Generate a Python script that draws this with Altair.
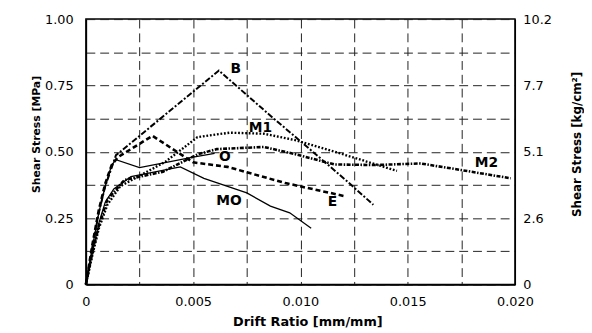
import altair as alt
import pandas as pd

# ---- data ----
B_x = [0, 0.0003, 0.0006, 0.0009, 0.0012, 0.0014, 0.0062, 0.0087, 0.0101, 0.0121, 0.0134]
B_y = [0, 0.14, 0.27, 0.37, 0.44, 0.487, 0.806, 0.629, 0.533, 0.394, 0.30]

E_x = [0, 0.0003, 0.0006, 0.0009, 0.0012, 0.0015, 0.0031, 0.0050, 0.0066, 0.0093, 0.0121]
E_y = [0, 0.15, 0.28, 0.38, 0.45, 0.48, 0.56, 0.46, 0.443, 0.382, 0.332]

O_x = [0, 0.0003, 0.0006, 0.0009, 0.0012, 0.0014, 0.0025, 0.0050, 0.0060]
O_y = [0, 0.14, 0.27, 0.37, 0.45, 0.47, 0.44, 0.48, 0.494]

MO_x = [0, 0.0003, 0.0006, 0.0009, 0.0013, 0.0021, 0.0044, 0.0055, 0.0075, 0.0086, 0.0095, 0.0105]
MO_y = [0, 0.12, 0.23, 0.31, 0.36, 0.406, 0.443, 0.40, 0.345, 0.295, 0.27, 0.212]

M1_x = [0, 0.0003, 0.0006, 0.0010, 0.0016, 0.0037, 0.0052, 0.0067, 0.0083, 0.0098, 0.0116, 0.0145]
M1_y = [0, 0.11, 0.21, 0.30, 0.37, 0.462, 0.555, 0.572, 0.568, 0.543, 0.50, 0.428]

M2_x = [0, 0.0003, 0.0006, 0.0010, 0.0018, 0.0036, 0.0052, 0.0061, 0.0083, 0.0098, 0.0116, 0.0135, 0.0156, 0.0175, 0.0198]
M2_y = [0, 0.12, 0.22, 0.32, 0.394, 0.425, 0.49, 0.51, 0.518, 0.49, 0.452, 0.45, 0.456, 0.431, 0.40]

label_names = ["B", "M1", "O", "MO", "E", "M2"]
label_x = [0.00699, 0.00814, 0.00648, 0.00667, 0.01149, 0.01867]
label_y = [0.812, 0.591, 0.480, 0.316, 0.309, 0.459]

x_ticks = [0, 0.0025, 0.005, 0.0075, 0.01, 0.0125, 0.015, 0.0175, 0.02]
x_labels = ["0", "0.005", "0.010", "0.015", "0.020"]
y_ticks = [0, 0.125, 0.25, 0.375, 0.5, 0.625, 0.75, 0.875, 1.0]
y_labels = ["0", "0.25", "0.50", "0.75", "1.00"]
y2_ticks = [0, 0.25, 0.5, 0.75, 1.0]
y2_labels = ["0", "2.6", "5.1", "7.7", "10.2"]

series = {
    "B": (B_x, B_y),
    "E": (E_x, E_y),
    "O": (O_x, O_y),
    "MO": (MO_x, MO_y),
    "M1": (M1_x, M1_y),
    "M2": (M2_x, M2_y),
}
styles = {
    "B": dict(strokeDash=[6, 2, 2, 2], strokeWidth=2.0),
    "E": dict(strokeDash=[5, 3], strokeWidth=2.6),
    "O": dict(strokeWidth=1.3),
    "MO": dict(strokeWidth=1.3),
    "M1": dict(strokeDash=[1.8, 1.8], strokeWidth=2.4),
    "M2": dict(strokeDash=[4, 1.5, 1.5, 1.5], strokeWidth=2.6),
}

FONT = "DejaVu Sans"

def js_list(lst):
    return "[" + ",".join("'" + s + "'" for s in lst) + "]"

x_expr = f"(round(datum.value/0.0025)%2==0) ? {js_list(x_labels)}[round(datum.value/0.005)] : ''"
y_expr = f"(round(datum.value/0.125)%2==0) ? {js_list(y_labels)}[round(datum.value/0.25)] : ''"
y2_expr = f"{js_list(y2_labels)}[round(datum.value/0.25)]"

x_scale = alt.Scale(domain=[0, 0.02], nice=False, zero=False)
y_scale = alt.Scale(domain=[0, 1], nice=False)

x_axis = alt.Axis(
    values=x_ticks, labelExpr=x_expr, title="Drift Ratio [mm/mm]",
    grid=True, gridDash=[9, 5], gridColor="#222", gridWidth=1,
    ticks=False, domainColor="black", domainWidth=1.5,
    labelFont=FONT, labelFontSize=13, labelColor="black", labelPadding=11,
    labelFlush=False, labelOverlap=False,
    titleFont=FONT, titleFontSize=13, titleFontWeight="bold", titleColor="black",
    titleX=224.5, titleY=38, titleBaseline="middle", titleAlign="center",
)
y_axis = alt.Axis(
    values=y_ticks, labelExpr=y_expr, title="Shear Stress [MPa]",
    grid=True, gridDash=[9, 5], gridColor="#222", gridWidth=1,
    ticks=False, domainColor="black", domainWidth=1.5,
    labelFont=FONT, labelFontSize=13, labelColor="black", labelPadding=13,
    labelFlush=False, labelOverlap=False,
    titleFont=FONT, titleFontSize=11, titleFontWeight="bold", titleColor="black",
    titleAngle=270, titleX=-50, titleY=116.5, titleBaseline="middle", titleAlign="center",
)
y2_axis = alt.Axis(
    orient="right", values=y2_ticks, labelExpr=y2_expr, title="Shear Stress [kg/cm²]",
    grid=False, ticks=False, domainColor="black", domainWidth=1.2,
    labelFont=FONT, labelFontSize=13, labelColor="black", labelPadding=8,
    labelFlush=False, labelOverlap=False,
    titleFont=FONT, titleFontSize=12, titleFontWeight="bold", titleColor="black",
    titleAngle=270, titleX=62, titleY=126.5, titleBaseline="middle", titleAlign="center",
)

layers = []
for name, (xs, ys) in series.items():
    df = pd.DataFrame({"x": xs, "y": ys, "series": name})
    layers.append(
        alt.Chart(df).mark_line(color="black", strokeCap="butt", **styles[name]).encode(
            x=alt.X("x:Q", scale=x_scale, axis=x_axis),
            y=alt.Y("y:Q", scale=y_scale, axis=y_axis),
            order=alt.Order("x:Q"),
        )
    )

lab_df = pd.DataFrame({"x": label_x, "y": label_y, "t": label_names})
labels = alt.Chart(lab_df).mark_text(
    font=FONT, fontSize=14, fontWeight="bold", color="black", align="center", baseline="middle"
).encode(
    x=alt.X("x:Q", scale=x_scale, axis=x_axis),
    y=alt.Y("y:Q", scale=y_scale, axis=y_axis),
    text="t:N",
)

left = alt.layer(*layers, labels)

right_df = pd.DataFrame({"x": [0.0], "y2": [0.0]})
right = alt.Chart(right_df).mark_point(opacity=0).encode(
    x=alt.X("x:Q", scale=x_scale, axis=x_axis),
    y=alt.Y("y2:Q", scale=alt.Scale(domain=[0, 1], nice=False), axis=y2_axis),
)

chart = alt.layer(left, right).resolve_scale(y="independent").properties(
    width=435, height=269,
    autosize=alt.AutoSizeParams(type="none"),
    padding={"left": 79, "top": 9, "right": 70, "bottom": 47},
    background="white",
).configure_view(stroke="black", strokeWidth=1.5)

chart.save("out.html", embed_options={"renderer": "svg", "actions": False})
